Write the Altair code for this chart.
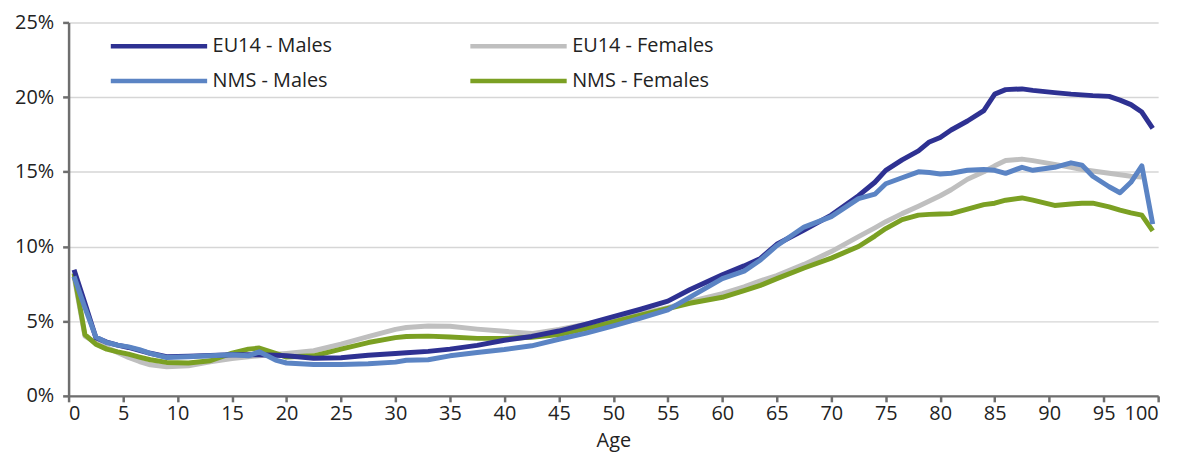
import altair as alt
import pandas as pd

AGES = [0.5, 1.5, 2.5, 3.5, 4.5, 5.5, 6.5, 7.5, 9, 11, 13, 15, 16.5, 17.5, 19, 20,
        22.5, 25, 27.5, 30, 31, 33, 35, 37.5, 40, 42.5, 45, 47.5, 50, 52.5, 55, 57,
        60, 62, 63.5, 65, 67.5, 70, 72.5, 74, 75, 76.5, 78, 79, 80, 81, 82.5, 84,
        85, 86, 87.5, 88.5, 90.5, 92, 93, 94, 95.5, 96.5, 97.5, 98.5, 99.5]

EU14_MALES = [8.45, 6.2, 3.9, 3.6, 3.4, 3.24, 3.05, 2.85, 2.62, 2.66, 2.7, 2.75, 2.75, 2.75, 2.72, 2.68,
              2.52, 2.55, 2.72, 2.84, 2.88, 2.98, 3.13, 3.38, 3.72, 3.98, 4.34, 4.8, 5.3, 5.8, 6.34, 7.1,
              8.1, 8.7, 9.2, 10.15, 11.1, 12.1, 13.4, 14.3, 15.1, 15.8, 16.4, 17.0, 17.3, 17.8, 18.4, 19.1,
              20.2, 20.5, 20.55, 20.45, 20.3, 20.2, 20.15, 20.1, 20.05, 19.8, 19.5, 19.0, 17.9]

EU14_FEMALES = [8.0, 4.0, 3.57, 3.24, 2.9, 2.57, 2.3, 2.08, 1.95, 2.02, 2.28, 2.5, 2.62, 2.68, 2.78, 2.84,
                3.02, 3.46, 3.97, 4.45, 4.58, 4.68, 4.66, 4.47, 4.32, 4.17, 4.45, 4.8, 5.17, 5.5, 5.9, 6.3,
                6.85, 7.3, 7.7, 8.05, 8.8, 9.66, 10.66, 11.25, 11.66, 12.2, 12.7, 13.05, 13.4, 13.8, 14.5, 15.0,
                15.4, 15.75, 15.85, 15.75, 15.5, 15.3, 15.15, 15.05, 14.9, 14.8, 14.7, 14.65, None]

NMS_MALES = [8.0, 5.9, 3.95, 3.57, 3.4, 3.28, 3.1, 2.84, 2.57, 2.62, 2.68, 2.75, 2.68, 2.95, 2.4, 2.2,
             2.1, 2.1, 2.15, 2.26, 2.38, 2.42, 2.68, 2.9, 3.1, 3.35, 3.79, 4.2, 4.68, 5.2, 5.75, 6.6,
             7.85, 8.35, 9.1, 10.05, 11.3, 12.0, 13.2, 13.5, 14.2, 14.6, 15.0, 14.95, 14.85, 14.9, 15.1, 15.15,
             15.1, 14.9, 15.3, 15.1, 15.3, 15.6, 15.45, 14.7, 14.0, 13.6, 14.3, 15.4, 11.5]

NMS_FEMALES = [8.2, 4.1, 3.46, 3.13, 2.95, 2.79, 2.6, 2.42, 2.24, 2.2, 2.35, 2.86, 3.13, 3.2, 2.85, 2.6,
               2.68, 3.13, 3.57, 3.9, 3.97, 4.0, 3.94, 3.85, 3.85, 3.92, 4.1, 4.5, 4.95, 5.4, 5.85, 6.2,
               6.6, 7.05, 7.4, 7.85, 8.56, 9.22, 10.0, 10.7, 11.2, 11.8, 12.1, 12.15, 12.17, 12.2, 12.5, 12.8,
               12.9, 13.1, 13.25, 13.1, 12.75, 12.85, 12.9, 12.9, 12.65, 12.43, 12.25, 12.1, 11.05]

SERIES = ["EU14 - Males", "EU14 - Females", "NMS - Males", "NMS - Females"]
# legend fills column by column: column 1 = males, column 2 = females
LEGEND_ORDER = ["EU14 - Males", "NMS - Males", "EU14 - Females", "NMS - Females"]
LEGEND_COLORS = ["#2E3192", "#5B84C4", "#BFBFBF", "#7BA023"]
DRAW_ORDER = ["EU14 - Females", "NMS - Females", "EU14 - Males", "NMS - Males"]
X_TICKS = list(range(0, 101, 5))
Y_TICKS = [0, 5, 10, 15, 20, 25]

rows = []
for name, vals in zip(SERIES, [EU14_MALES, EU14_FEMALES, NMS_MALES, NMS_FEMALES]):
    for a, v in zip(AGES, vals):
        if v is not None:
            rows.append({"age": a, "value": v, "series": name})
df = pd.DataFrame(rows)

FONT = "Open Sans"

base = alt.Chart(df).mark_line(strokeWidth=5, strokeJoin="round").encode(
    x=alt.X("age:Q",
            scale=alt.Scale(domain=[0, 100], nice=False),
            axis=alt.Axis(values=X_TICKS, title="Age", grid=False,
                          titleY=51, titleBaseline="alphabetic",
                          labelPadding=2, tickSize=6)),
    y=alt.Y("value:Q",
            scale=alt.Scale(domain=[0, 25], nice=False),
            axis=alt.Axis(values=Y_TICKS, title=None, grid=True,
                          labelExpr="datum.value + '%'", labelPadding=9, tickSize=6)),
    color=alt.Color("series:N",
                    scale=alt.Scale(domain=LEGEND_ORDER, range=LEGEND_COLORS),
                    legend=alt.Legend(title=None, orient="none", legendX=40, legendY=14,
                                      columns=2, symbolType="stroke", symbolSize=9409,
                                      symbolStrokeWidth=4.5, clipHeight=20, rowPadding=15,
                                      columnPadding=136, labelOffset=3, padding=0,
                                      labelFontSize=20, labelFont=FONT, labelColor="#222222",
                                      labelLimit=300)),
)

layers = [base.transform_filter(alt.datum.series == s) for s in DRAW_ORDER]

chart = alt.layer(*layers).properties(
    width=1097, height=376,
    autosize=alt.AutoSizeParams(type="none"),
    padding={"left": 61, "top": 13, "right": 22, "bottom": 56},
).configure_view(stroke=None).configure_axis(
    labelFont=FONT, titleFont=FONT, labelFontSize=20, titleFontSize=20,
    titleFontWeight="normal", labelColor="#222222", titleColor="#222222",
    domainColor="#6E6E6E", domainWidth=2.5, tickColor="#6E6E6E", tickWidth=2.5,
    gridColor="#D6D6D6", gridWidth=1.5,
)

chart.save("out.html", embed_options={"renderer": "svg", "actions": False})
